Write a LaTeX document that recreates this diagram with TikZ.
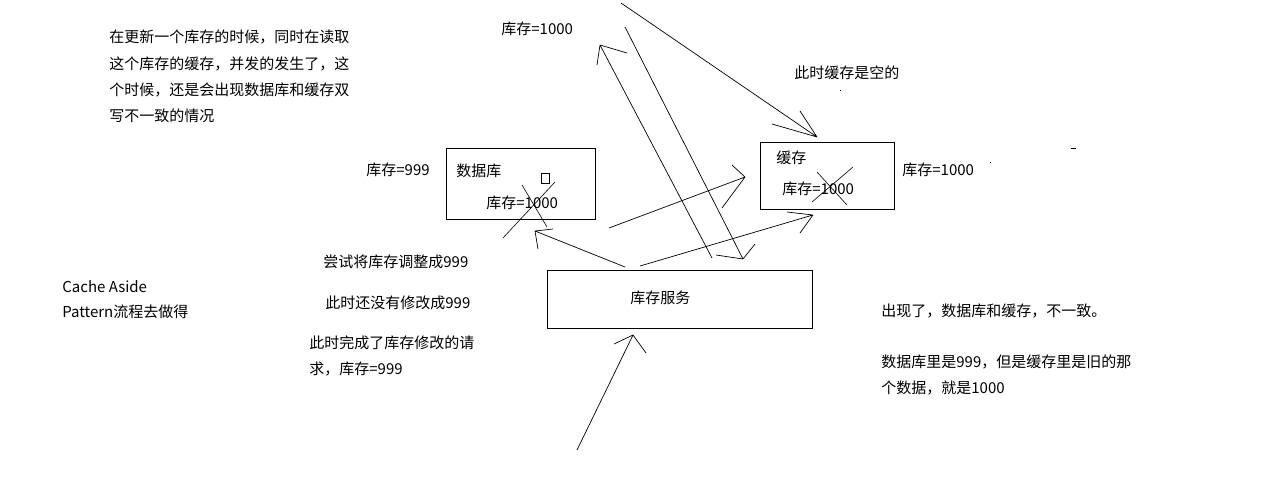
\documentclass[tikz,border=0pt]{standalone}
\usepackage{fontspec}
\setmainfont{Noto Sans CJK SC}
\begin{document}
\begin{tikzpicture}[x=1pt,y=-1pt,line width=0.7pt,
  lbl/.style={anchor=west,inner sep=0pt,font=\fontsize{15}{16}\selectfont},
  box/.style={draw,line width=0.9pt,inner sep=0pt,anchor=north west},
  conn/.style={line width=0.7pt},
  crossl/.style={line width=0.6pt}]
\useasboundingbox (0,0) rectangle (1274,500);
\fill[white] (0,0) rectangle (1274,500);

% boxes
\node[box,minimum width=149pt,minimum height=71pt] (db) at (446,148) {};
\node[box,minimum width=134pt,minimum height=67pt] (cache) at (760,142) {};
\node[box,minimum width=265pt,minimum height=58pt] (svc) at (547,270) {};
\node[draw,line width=0.6pt,inner sep=0pt,minimum width=8pt,minimum height=10pt] (sq) at (545,178) {};

% labels in boxes
\node[lbl] (dbname) at (456,171) {数据库};
\node[lbl] (dbval) at (486,203) {库存=1000};
\node[lbl] (cname) at (776,158) {缓存};
\node[lbl] (cval) at (782,189) {库存=1000};
\node[lbl] (sname) at (630,298) {库存服务};

% other labels
\node[lbl] (t1) at (501,29) {库存=1000};
\node[lbl] (t2) at (794,73) {此时缓存是空的};
\node[lbl] (t3) at (902,170) {库存=1000};
\node[lbl] (t4) at (366,170) {库存=999};
\node[lbl] (p1) at (109,37) {在更新一个库存的时候，同时在读取};
\node[lbl] (p2) at (109,64) {这个库存的缓存，并发的发生了，这};
\node[lbl] (p3) at (109,90) {个时候，还是会出现数据库和缓存双};
\node[lbl] (p4) at (109,116) {写不一致的情况};
\node[lbl] (ca1) at (62,287) {Cache Aside};
\node[lbl] (ca2) at (62,312) {Pattern流程去做得};
\node[lbl] (s1) at (323,262) {尝试将库存调整成999};
\node[lbl] (s2) at (325,303) {此时还没有修改成999};
\node[lbl] (s3) at (309,343) {此时完成了库存修改的请};
\node[lbl] (s4) at (309,369) {求，库存=999};
\node[lbl] (r1) at (881,311) {出现了，数据库和缓存，不一致。};
\node[lbl] (r2) at (881,362) {数据库里是999，但是缓存里是旧的那};
\node[lbl] (r3) at (881,388) {个数据，就是1000};

% connector coordinates
\coordinate (a1s) at (625,267); \coordinate (a1t) at (535,231);
\coordinate (a2s) at (640,266); \coordinate (a2t) at (813,215);
\coordinate (a3s) at (609,228); \coordinate (a3t) at (745,177);
\coordinate (a4s) at (712,258); \coordinate (a4t) at (600,45);
\coordinate (a5s) at (625,27);  \coordinate (a5t) at (743,259);
\coordinate (a6s) at (621,3);   \coordinate (a6t) at (817,137);
\coordinate (a7s) at (577,450); \coordinate (a7t) at (633,335);

\draw[conn] (a1s) -- (a1t) (a1t) -- (553,229) (a1t) -- (538,249);
\draw[conn] (a2s) -- (a2t) (a2t) -- (787,212) (a2t) -- (800,233);
\draw[conn] (a3s) -- (a3t) (a3t) -- (732,165) (a3t) -- (722,208);
\draw[conn] (a4s) -- (a4t) (a4t) -- (627,53) (a4t) -- (597,65);
\draw[conn] (a5s) -- (a5t) (a5t) -- (716,255) (a5t) -- (755,244);
\draw[conn] (a6s) -- (a6t) (a6t) -- (772,124) (a6t) -- (800,111);
\draw[conn] (a7s) -- (a7t) (a7t) -- (614,344) (a7t) -- (646,353);

% crosses
\draw[crossl] (522,185) -- (547,227) (555,182) -- (503,238);
\draw[crossl] (817,172) -- (847,205) (853,167) -- (812,202);

% tiny marks
\fill (839.5,90.5) rectangle (840.5,91.5);
\fill (989.5,161.5) rectangle (990.5,162.5);
\fill (1071,148.5) rectangle (1076,149.5);
\end{tikzpicture}
\end{document}
